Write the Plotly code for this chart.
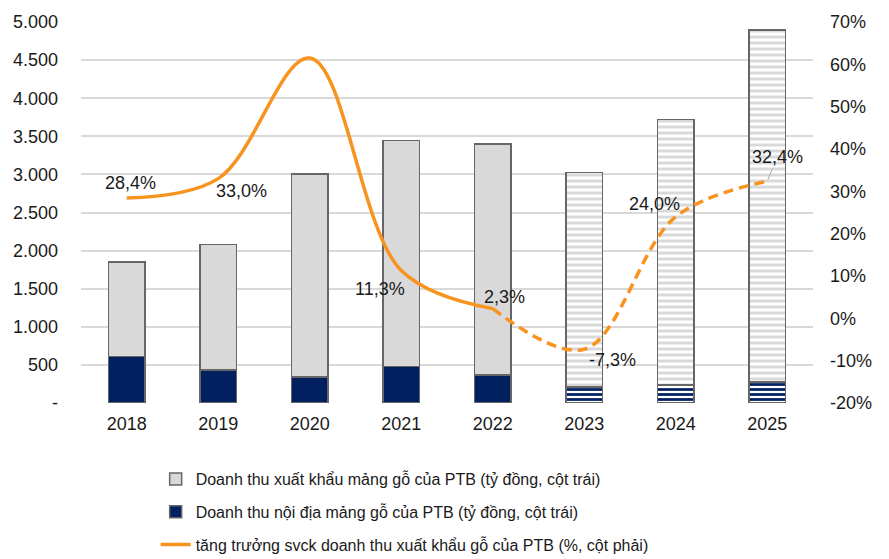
import plotly.graph_objects as go

# data
years = ["2018", "2019", "2020", "2021", "2022", "2023", "2024", "2025"]
export_rev = [1240, 1650, 2665, 2966, 3034, 2813, 3488, 4618]
domestic_rev = [610, 430, 340, 480, 365, 210, 235, 275]
growth = [28.4, 33.0, 61.5, 11.3, 2.3, -7.3, 24.0, 32.4]
growth_labels = ["28,4%", "33,0%", "", "11,3%", "2,3%", "-7,3%", "24,0%", "32,4%"]
forecast = [False, False, False, False, False, True, True, True]

left_ticks = [0, 500, 1000, 1500, 2000, 2500, 3000, 3500, 4000, 4500, 5000]
left_ticktext = ["-", "500", "1.000", "1.500", "2.000", "2.500", "3.000",
                 "3.500", "4.000", "4.500", "5.000"]
right_ticks = [-20, -10, 0, 10, 20, 30, 40, 50, 60, 70]

FONT = "Liberation Sans, Arial, sans-serif"
ORANGE = "#F7931E"
NAVY = "#002060"
LIGHT = "#D9D9D9"
OUTLINE = "#666666"

shapes = ["-" if f else "" for f in forecast]

fig = go.Figure()

fig.add_trace(go.Bar(
    name="Doanh thu nội địa mảng gỗ của PTB (tỷ đồng, cột trái)",
    x=years, y=domestic_rev, legendrank=2, legendgroup="b",
    marker=dict(color=NAVY, line=dict(color=OUTLINE, width=1.5),
                pattern=dict(shape=shapes, fgcolor=NAVY, bgcolor="white",
                             size=5, solidity=0.55, fillmode="replace")),
))
fig.add_trace(go.Bar(
    name="Doanh thu xuất khẩu mảng gỗ của PTB (tỷ đồng, cột trái)",
    x=years, y=export_rev, legendrank=1, legendgroup="a",
    marker=dict(color=LIGHT, line=dict(color=OUTLINE, width=1.5),
                pattern=dict(shape=shapes, fgcolor=LIGHT, bgcolor="white",
                             size=6, solidity=0.5, fillmode="replace")),
))

# growth line: solid for actuals, dashed for forecast
fig.add_trace(go.Scatter(
    name="tăng trưởng svck doanh thu xuất khẩu gỗ của PTB (%, cột phải)",
    x=years[:5], y=growth[:5], yaxis="y2", mode="lines", legendrank=3, legendgroup="c",
    line=dict(color=ORANGE, width=3.5, shape="spline", smoothing=1.0),
))
fig.add_trace(go.Scatter(
    x=years[4:], y=growth[4:], yaxis="y2", mode="lines", showlegend=False,
    line=dict(color=ORANGE, width=3.5, shape="spline", smoothing=1.0, dash="10px,6px"),
))

# label offsets (pixels) as in the original; x given as category index
offsets = [(4, 15), (23, -12), (0, 0), (-21, -18), (12, 12), (28, -11), (-21, 13)]
for i, (dx, dy) in enumerate(offsets):
    if not growth_labels[i]:
        continue
    fig.add_annotation(x=i, y=growth[i], yref="y2", text=growth_labels[i],
                       showarrow=False, xshift=dx, yshift=dy,
                       font=dict(family=FONT, size=18, color="#1a1a1a"))
fig.add_annotation(x=7, y=growth[7], yref="y2", text=growth_labels[7],
                   showarrow=True, arrowhead=0, arrowwidth=1, arrowcolor="#A6A6A6",
                   ax=10, ay=-24, standoff=2,
                   font=dict(family=FONT, size=18, color="#1a1a1a"))

fig.update_layout(
    width=881, height=551,
    barmode="stack", bargap=0.6,
    plot_bgcolor="white", paper_bgcolor="white",
    margin=dict(l=73, r=76, t=14, b=156, autoexpand=False),
    font=dict(family=FONT, size=18, color="#1a1a1a"),
    xaxis=dict(type="category", range=[-0.5, 7.5], showgrid=False, showline=False,
               ticks="", tickfont=dict(size=18), ticklabelstandoff=8),
    yaxis=dict(range=[0, 5000], tickvals=left_ticks, ticktext=left_ticktext,
               showgrid=True, gridcolor=LIGHT, gridwidth=1.5, zeroline=False,
               ticklabelstandoff=22, tickfont=dict(size=18)),
    yaxis2=dict(range=[-20, 70], tickvals=right_ticks,
                ticktext=[f"{v}%" for v in right_ticks],
                overlaying="y", side="right", showgrid=False, zeroline=False,
                ticklabelstandoff=16, tickfont=dict(size=18)),
    legend=dict(x=0.102, y=-0.155, xanchor="left", yanchor="top",
                orientation="v", tracegroupgap=9,
                font=dict(family=FONT, size=16, color="#1a1a1a")),
)

fig.write_html("out.html")
